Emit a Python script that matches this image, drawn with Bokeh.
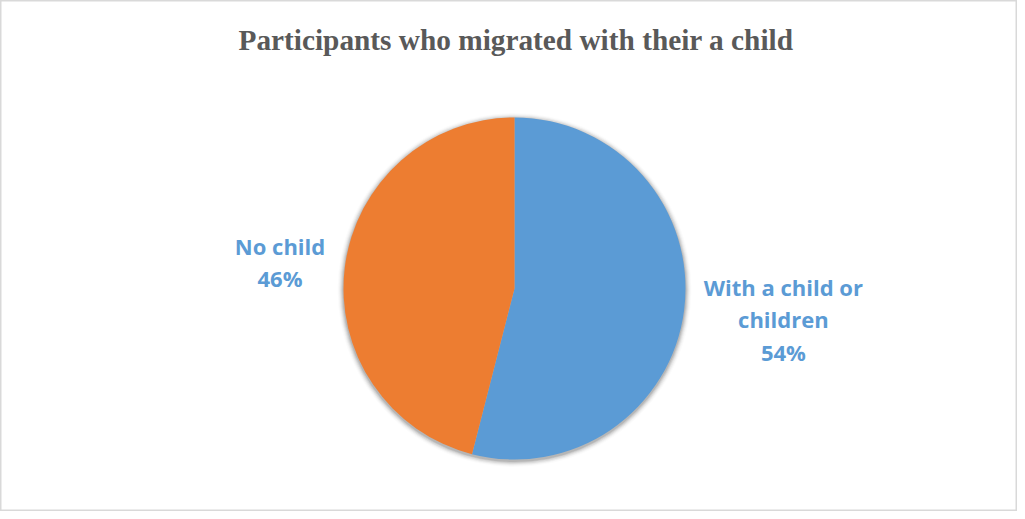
import math
from bokeh.plotting import figure
from bokeh.models import Range1d, ColumnDataSource
from bokeh.core.properties import value
from bokeh.embed import file_html
from bokeh.resources import INLINE

# ---- data ----
title_text = "Participants who migrated with their a child"
categories = ["With a child or\nchildren", "No child"]
shares = [54, 46]
colors = ["#5B9BD5", "#ED7D31"]

W, H = 1017, 511
CX, CY, R = 514, 223, 171

p = figure(width=W, height=H, output_backend="svg", toolbar_location=None,
           x_range=Range1d(0, W), y_range=Range1d(0, H), min_border=0,
           background_fill_color="white", border_fill_color="white")
p.axis.visible = False
p.grid.visible = False
p.outline_line_color = "#d9d9d9"
p.outline_line_width = 2

# title
p.text(x=[W / 2 + 7], y=[H - 39], text=[title_text], text_align="center",
       text_baseline="middle", text_font=value("Liberation Serif"),
       text_font_style="bold", text_font_size="29.3px", text_color="#595959")

# soft shadow
for i, a in zip(range(1, 7), [0.10, 0.08, 0.06, 0.04, 0.025, 0.015]):
    p.circle(x=[CX], y=[CY - 1.5], radius=R + i, fill_color="black", fill_alpha=a,
             line_color=None)

# wedges: start at top, go clockwise
total = sum(shares)
starts, ends, mids = [], [], []
acc = 0.0
for s in shares:
    a0 = math.pi / 2 - 2 * math.pi * acc / total
    acc += s
    a1 = math.pi / 2 - 2 * math.pi * acc / total
    starts.append(a1)
    ends.append(a0)
    mids.append((a0 + a1) / 2)

src = ColumnDataSource(dict(start=starts, end=ends, color=colors))
p.wedge(x=CX, y=CY, radius=R, start_angle="start", end_angle="end",
        fill_color="color", line_color=None, source=src)

# labels placed along mid-angle
label_dist = [1.585, 1.382]
lx = [CX + R * d * math.cos(m) for d, m in zip(label_dist, mids)]
ly = [CY + R * d * math.sin(m) for d, m in zip(label_dist, mids)]
labels = [f"{c}\n{s}%" for c, s in zip(categories, shares)]
p.text(x=lx, y=ly, text=labels, text_align="center", text_baseline="middle",
       y_offset=[-3, 3],
       text_font=value("Open Sans"), text_font_style="bold", text_font_size="22px",
       text_color="#5B9BD5", text_line_height=1.07)

open("out.html", "w").write(file_html(p, INLINE))
